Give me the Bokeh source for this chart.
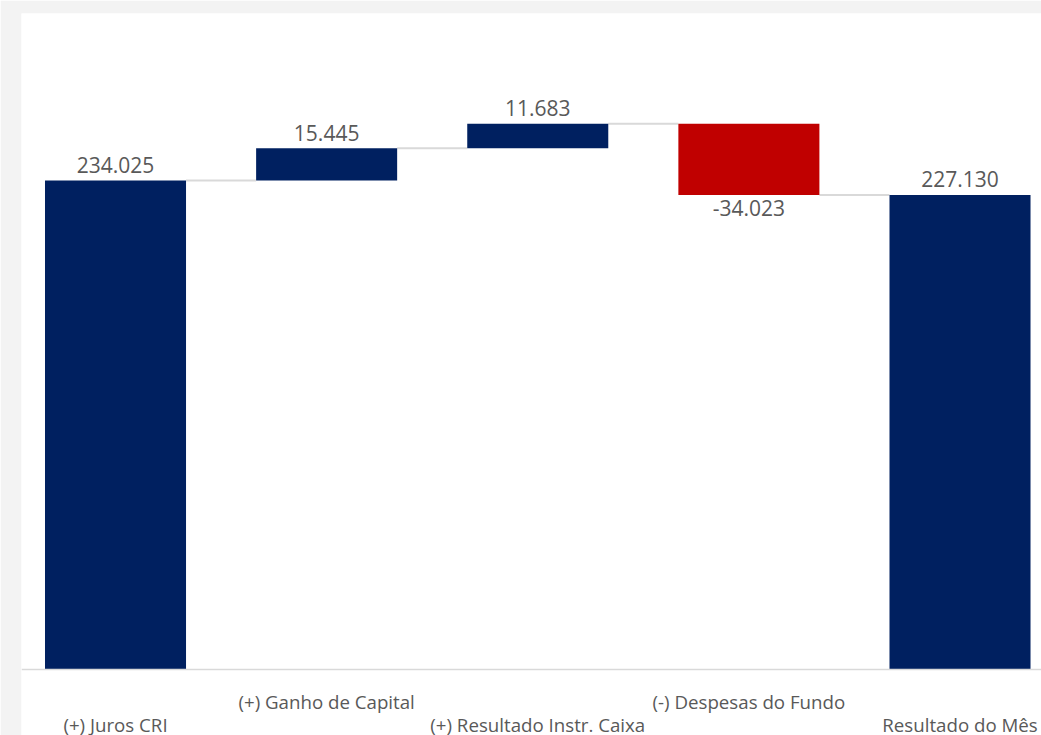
from bokeh.plotting import figure
from bokeh.models import Range1d, ColumnDataSource, Span
from bokeh.core.properties import value
from bokeh.embed import file_html
from bokeh.resources import INLINE

# ---- data ----
categories = ["(+) Juros CRI", "(+) Ganho de Capital", "(+) Resultado Instr. Caixa",
              "(-) Despesas do Fundo", "Resultado do Mês"]
values = [234025, 15445, 11683, -34023, 227130]
is_total = [True, False, False, False, True]
value_labels = ["234.025", "15.445", "11.683", "-34.023", "227.130"]

NAVY = "#002060"
RED = "#C00000"
TEXT = "#595959"
GRID = "#d9d9d9"
BAR_W = 0.668

xs = list(range(len(categories)))
bottoms, tops, colors, levels = [], [], [], []
running = 0
for v, tot in zip(values, is_total):
    if tot:
        b, t = 0, v
        running = v
    else:
        b, t = running, running + v
        running += v
    bottoms.append(min(b, t))
    tops.append(max(b, t))
    colors.append(RED if v < 0 else NAVY)
    levels.append(running)

p = figure(width=1041, height=735,
           x_range=Range1d(-0.4453, 4.386), y_range=Range1d(-31586, 313950),
           min_border_left=21, min_border_top=13, min_border_right=0, min_border_bottom=0,
           border_fill_color="#f3f3f3", background_fill_color="white",
           outline_line_color=None, x_axis_location=None, y_axis_location=None,
           output_backend="svg", toolbar_location=None)
p.xgrid.grid_line_color = None
p.ygrid.grid_line_color = None

# baseline (category axis line)
p.add_layout(Span(location=0, dimension="width", line_color=GRID, line_width=1.5))

# connectors
cx0 = [x + BAR_W / 2 for x in xs[:-1]]
cx1 = [x + 1 - BAR_W / 2 for x in xs[:-1]]
p.segment(x0=cx0, y0=levels[:-1], x1=cx1, y1=levels[:-1], line_color=GRID, line_width=2)

src = ColumnDataSource(dict(x=xs, bottom=bottoms, top=tops, color=colors))
p.vbar(x="x", width=BAR_W, bottom="bottom", top="top", fill_color="color",
       line_color=None, source=src)

# value labels
ly = [t if v >= 0 else b for v, t, b in zip(values, tops, bottoms)]
loff = [-15.5 if v >= 0 else 13.5 for v in values]
p.text(x=xs, y=ly, text=value_labels, y_offset=loff,
       text_align="center", text_baseline="middle",
       text_font=value("Open Sans"), text_font_size="21px", text_color=TEXT)

# category labels (staggered)
coff = [54.5 if i % 2 == 0 else 32 for i in xs]
p.text(x=xs, y=[0] * len(xs), text=categories, y_offset=coff,
       text_align="center", text_baseline="middle",
       text_font=value("Open Sans"), text_font_size="18.7px", text_color=TEXT)

open("out.html", "w").write(file_html(p, INLINE))
